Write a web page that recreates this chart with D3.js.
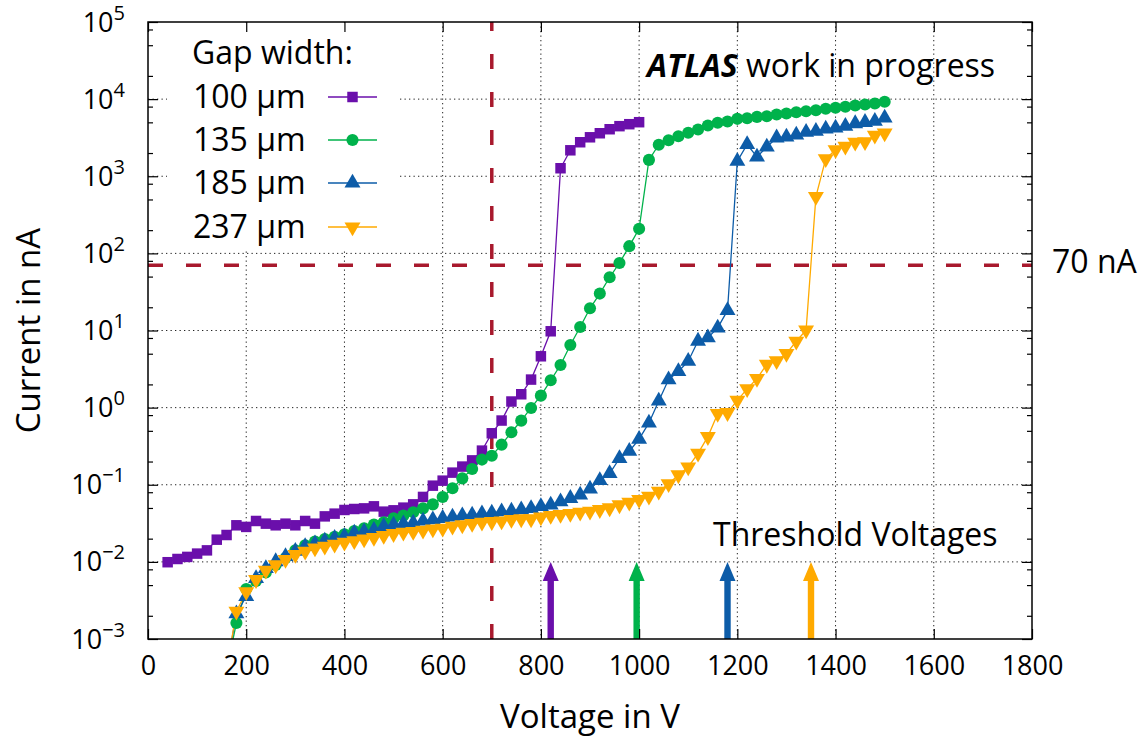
<!DOCTYPE html>
<html><head><meta charset="utf-8">
<script src="https://cdn.jsdelivr.net/npm/d3@7"></script>
<style>
body{margin:0;background:#fff}
text{font-family:'Open Sans',sans-serif;fill:#000}
</style>
</head><body>
<svg id="c" width="1145" height="740"></svg>
<script>
// ---------------- data ----------------
const v100 = [40,60,80,100,120,140,160,180,200,220,240,260,280,300,320,340,360,380,400,420,440,460,480,500,520,540,560,580,600,620,640,660,680,700,720,740,760,780,800,820,840,860,880,900,920,940,960,980,1000];
const i100 = [0.0099,0.0109,0.0116,0.0128,0.0141,0.0194,0.0223,0.0298,0.0284,0.0339,0.0313,0.0298,0.0313,0.0298,0.0339,0.0313,0.0389,0.0422,0.0471,0.0485,0.0494,0.0525,0.0448,0.0466,0.0505,0.0557,0.0695,0.0973,0.113,0.1436,0.172,0.207,0.277,0.465,0.68,1.2,1.49,2.31,4.63,9.77,1270,2170,2760,3200,3610,4070,4460,4730,5020];

const v135 = [160,180,200,220,240,260,280,300,320,340,360,380,400,420,440,460,480,500,520,540,560,580,600,620,640,660,680,700,720,740,760,780,800,820,840,860,880,900,920,940,960,980,1000,1020,1040,1060,1080,1100,1120,1140,1160,1180,1200,1220,1240,1260,1280,1300,1320,1340,1360,1380,1400,1420,1440,1460,1480,1500];
const i135 = [0.0004,0.00161,0.00445,0.00565,0.00731,0.00912,0.0112,0.0141,0.0164,0.0183,0.0198,0.0212,0.0228,0.0251,0.0272,0.0304,0.0326,0.0367,0.0398,0.0439,0.0494,0.0557,0.0695,0.0899,0.121,0.16,0.212,0.238,0.331,0.479,0.678,0.99,1.43,2.26,3.57,6.5,11.1,19.4,30.1,49,75,124,208,1630,2560,2930,3300,3660,4040,4550,4930,5120,5550,5650,5890,6000,6320,6500,6760,6970,7180,7490,7720,7950,8260,8510,8770,9230];

const v185 = [160,180,200,220,240,260,280,300,320,340,360,380,400,420,440,460,480,500,520,540,560,580,600,620,640,660,680,700,720,740,760,780,800,820,840,860,880,900,920,940,960,980,1000,1020,1040,1060,1080,1100,1120,1140,1160,1180,1200,1220,1240,1260,1280,1300,1320,1340,1360,1380,1400,1420,1440,1460,1480,1500];
const i185 = [0.0004,0.00213,0.00357,0.0061,0.00824,0.0101,0.0118,0.0138,0.0159,0.0172,0.0187,0.0202,0.0214,0.0237,0.0247,0.0257,0.0289,0.0301,0.0313,0.0319,0.0339,0.0353,0.0367,0.0382,0.0398,0.0406,0.0422,0.0431,0.0448,0.0457,0.0475,0.0494,0.0525,0.0547,0.0604,0.0667,0.0738,0.0882,0.114,0.14,0.22,0.272,0.39,0.633,1.22,2.31,2.94,4.0,7.3,8.05,10.8,18.2,1566,2580,1785,2400,3150,3240,3440,3720,3830,4110,4240,4460,4820,5010,5170,5720];

const v237 = [160,180,200,220,240,260,280,300,320,340,360,380,400,420,440,460,480,500,520,540,560,580,600,620,640,660,680,700,720,740,760,780,800,820,840,860,880,900,920,940,960,980,1000,1020,1040,1060,1080,1100,1120,1140,1160,1180,1200,1220,1240,1260,1280,1300,1320,1340,1360,1380,1400,1420,1440,1460,1480,1500];
const i237 = [0.0004,0.00228,0.0041,0.00587,0.00776,0.00912,0.0107,0.0124,0.0137,0.0151,0.0159,0.0169,0.0179,0.0187,0.0198,0.0206,0.0219,0.0232,0.0241,0.0247,0.0257,0.0267,0.0272,0.0289,0.0301,0.0313,0.0326,0.0332,0.0339,0.0353,0.036,0.036,0.0382,0.0398,0.041,0.0422,0.0439,0.0452,0.0475,0.05,0.0547,0.0592,0.0641,0.0708,0.082,0.103,0.134,0.17,0.255,0.42,0.836,0.86,1.24,1.75,2.38,3.63,4.05,5.01,7.25,10.1,545,1680,2200,2450,2760,2800,3400,3620];

const seriesNames = ["100 µm","135 µm","185 µm","237 µm"];
const seriesColors = ["#6a0fab","#00b24b","#0d5ca8","#ffaa00"];
const thresholdV = [820,995,1180,1350];
const limitCurrent = 70;     // nA
const limitVoltage = 700;    // V

const xTickValues = [0,200,400,600,800,1000,1200,1400,1600,1800];
const yTickValues = [1e-3,1e-2,1e-1,1,10,100,1000,10000,100000];
const yTickExps = ["−3","−2","−1","0","1","2","3","4","5"];
const yMinorValues = [];
[1e-3,1e-2,1e-1,1,10,100,1000,10000].forEach(d=>[2,5,8].forEach(k=>yMinorValues.push(d*k)));

// ---------------- layout ----------------
const svg = d3.select('#c');
const m = {l:148, r:1032, t:22, b:639};
const x = d3.scaleLinear().domain([0,1800]).range([m.l,m.r]);
const y = d3.scaleLog().domain([1e-3,1e5]).range([m.b,m.t]);

svg.append('defs').append('clipPath').attr('id','clip')
  .append('rect').attr('x',m.l).attr('y',m.t).attr('width',m.r-m.l).attr('height',m.b-m.t);

// grid
const grid = svg.append('g').attr('stroke','#222').attr('stroke-width',1).attr('stroke-dasharray','1.3,3.2');
grid.selectAll('line.gx').data(xTickValues.slice(1,-1)).join('line')
  .attr('x1',d=>x(d)).attr('x2',d=>x(d)).attr('y1',m.t).attr('y2',m.b);
grid.selectAll('line.gy').data(yTickValues.slice(1,-1)).join('line')
  .attr('y1',d=>y(d)).attr('y2',d=>y(d)).attr('x1',m.l).attr('x2',m.r);

// legend background
svg.append('rect').attr('x',167).attr('y',m.t+1).attr('width',231).attr('height',226).attr('fill','#fff');

// reference lines
const red = '#a8192d';
svg.append('line').attr('x1',m.l).attr('x2',m.r).attr('y1',y(limitCurrent)).attr('y2',y(limitCurrent))
  .attr('stroke',red).attr('stroke-width',3.5).attr('stroke-dasharray','15,23');
svg.append('line').attr('x1',x(limitVoltage)).attr('x2',x(limitVoltage)).attr('y1',m.b).attr('y2',m.t)
  .attr('stroke',red).attr('stroke-width',3.5).attr('stroke-dasharray','15,23');

// threshold arrows
thresholdV.forEach((v,i)=>{
  const cx = x(v), yb = y(1e-3), yt = y(1e-2);
  const sw = 3.2, hw = 8, hl = 19;
  const p = `M${cx-sw},${yb} L${cx-sw},${yt+hl} L${cx-hw},${yt+hl} L${cx},${yt} L${cx+hw},${yt+hl} L${cx+sw},${yt+hl} L${cx+sw},${yb} Z`;
  svg.append('path').attr('d',p).attr('fill',seriesColors[i]);
});

// series
const seriesData = [
  v100.map((v,j)=>({v, c:i100[j]})),
  v135.map((v,j)=>({v, c:i135[j]})),
  v185.map((v,j)=>({v, c:i185[j]})),
  v237.map((v,j)=>({v, c:i237[j]}))
];
const symbols = [
  d3.symbol().type(d3.symbolSquare).size(110),
  d3.symbol().type(d3.symbolCircle).size(115),
  d3.symbol().type(d3.symbolTriangle).size(110),
  d3.symbol().type(d3.symbolTriangle).size(110)
];
const rot = [0,0,0,180];
const line = d3.line().x(d=>x(d.v)).y(d=>y(d.c));
const plot = svg.append('g').attr('clip-path','url(#clip)');
seriesData.forEach((data,i)=>{
  plot.append('path').datum(data).attr('d',line).attr('fill','none')
    .attr('stroke',seriesColors[i]).attr('stroke-width',1.3);
});
seriesData.forEach((data,i)=>{
  plot.selectAll(null).data(data.filter(d=>d.c>=1e-3)).join('path')
    .attr('d',symbols[i]).attr('fill',seriesColors[i])
    .attr('transform',d=>`translate(${x(d.v)},${y(d.c)}) rotate(${rot[i]})`);
});

// axes ticks (inward) + frame
const tk = g=>{g.select('.domain').remove(); g.selectAll('line').attr('stroke','#000').attr('stroke-width',1.2);};
svg.append('g').attr('transform',`translate(0,${m.b})`)
  .call(d3.axisBottom(x).tickValues(xTickValues).tickFormat(d3.format('d')).tickSizeInner(-10).tickSizeOuter(0).tickPadding(17))
  .call(tk).call(g=>g.selectAll('text').attr('font-size',27).attr('font-family',"'Open Sans',sans-serif"));
svg.append('g').attr('transform',`translate(0,${m.t})`)
  .call(d3.axisTop(x).tickValues(xTickValues).tickSizeInner(-10).tickSizeOuter(0).tickFormat(''))
  .call(tk);
svg.append('g').attr('transform',`translate(${m.l},0)`)
  .call(d3.axisLeft(y).tickValues(yTickValues).tickSizeInner(-10).tickSizeOuter(0).tickFormat(''))
  .call(tk);
svg.append('g').attr('transform',`translate(${m.l},0)`)
  .call(d3.axisLeft(y).tickValues(yMinorValues).tickSizeInner(-5).tickSizeOuter(0).tickFormat(''))
  .call(tk);
svg.append('g').attr('transform',`translate(${m.r},0)`)
  .call(d3.axisRight(y).tickValues(yTickValues).tickSizeInner(-10).tickSizeOuter(0).tickFormat(''))
  .call(tk);
svg.append('g').attr('transform',`translate(${m.r},0)`)
  .call(d3.axisRight(y).tickValues(yMinorValues).tickSizeInner(-5).tickSizeOuter(0).tickFormat(''))
  .call(tk);
svg.append('rect').attr('x',m.l).attr('y',m.t).attr('width',m.r-m.l).attr('height',m.b-m.t)
  .attr('fill','none').attr('stroke','#000').attr('stroke-width',1.5);

// y tick labels with superscripts
yTickValues.forEach((v,i)=>{
  const t = svg.append('text').attr('x',125).attr('y',y(v)+9.5).attr('text-anchor','end').attr('font-size',27);
  t.append('tspan').text('10');
  t.append('tspan').attr('dy',-12).attr('font-size',20).text(yTickExps[i]);
});

// axis titles
svg.append('text').attr('x',(m.l+m.r)/2).attr('y',728).attr('text-anchor','middle').attr('font-size',33).text('Voltage in V');
svg.append('text').attr('transform',`translate(40,${(m.t+m.b)/2}) rotate(-90)`).attr('text-anchor','middle').attr('font-size',33).text('Current in nA');

// annotations
const at = svg.append('text').attr('x',647).attr('y',77).attr('font-size',32);
at.append('tspan').attr('font-weight','bold').attr('font-style','italic').text('ATLAS');
at.append('tspan').text(' work in progress');
svg.append('text').attr('x',713).attr('y',546).attr('font-size',32).text('Threshold Voltages');
svg.append('text').attr('x',1052).attr('y',y(limitCurrent)+8).attr('font-size',32).text('70 nA');

// legend
svg.append('text').attr('x',192).attr('y',64).attr('font-size',32).text('Gap width:');
const rowY = [97,140,183,227];
seriesNames.forEach((n,i)=>{
  svg.append('text').attr('x',193).attr('y',rowY[i]+11).attr('font-size',32).text(n);
  svg.append('line').attr('x1',328).attr('x2',377).attr('y1',rowY[i]).attr('y2',rowY[i])
    .attr('stroke',seriesColors[i]).attr('stroke-width',1.3);
  svg.append('path').attr('d',symbols[i]).attr('fill',seriesColors[i])
    .attr('transform',`translate(352.5,${rowY[i]}) rotate(${rot[i]})`);
});
</script>
</body></html>
